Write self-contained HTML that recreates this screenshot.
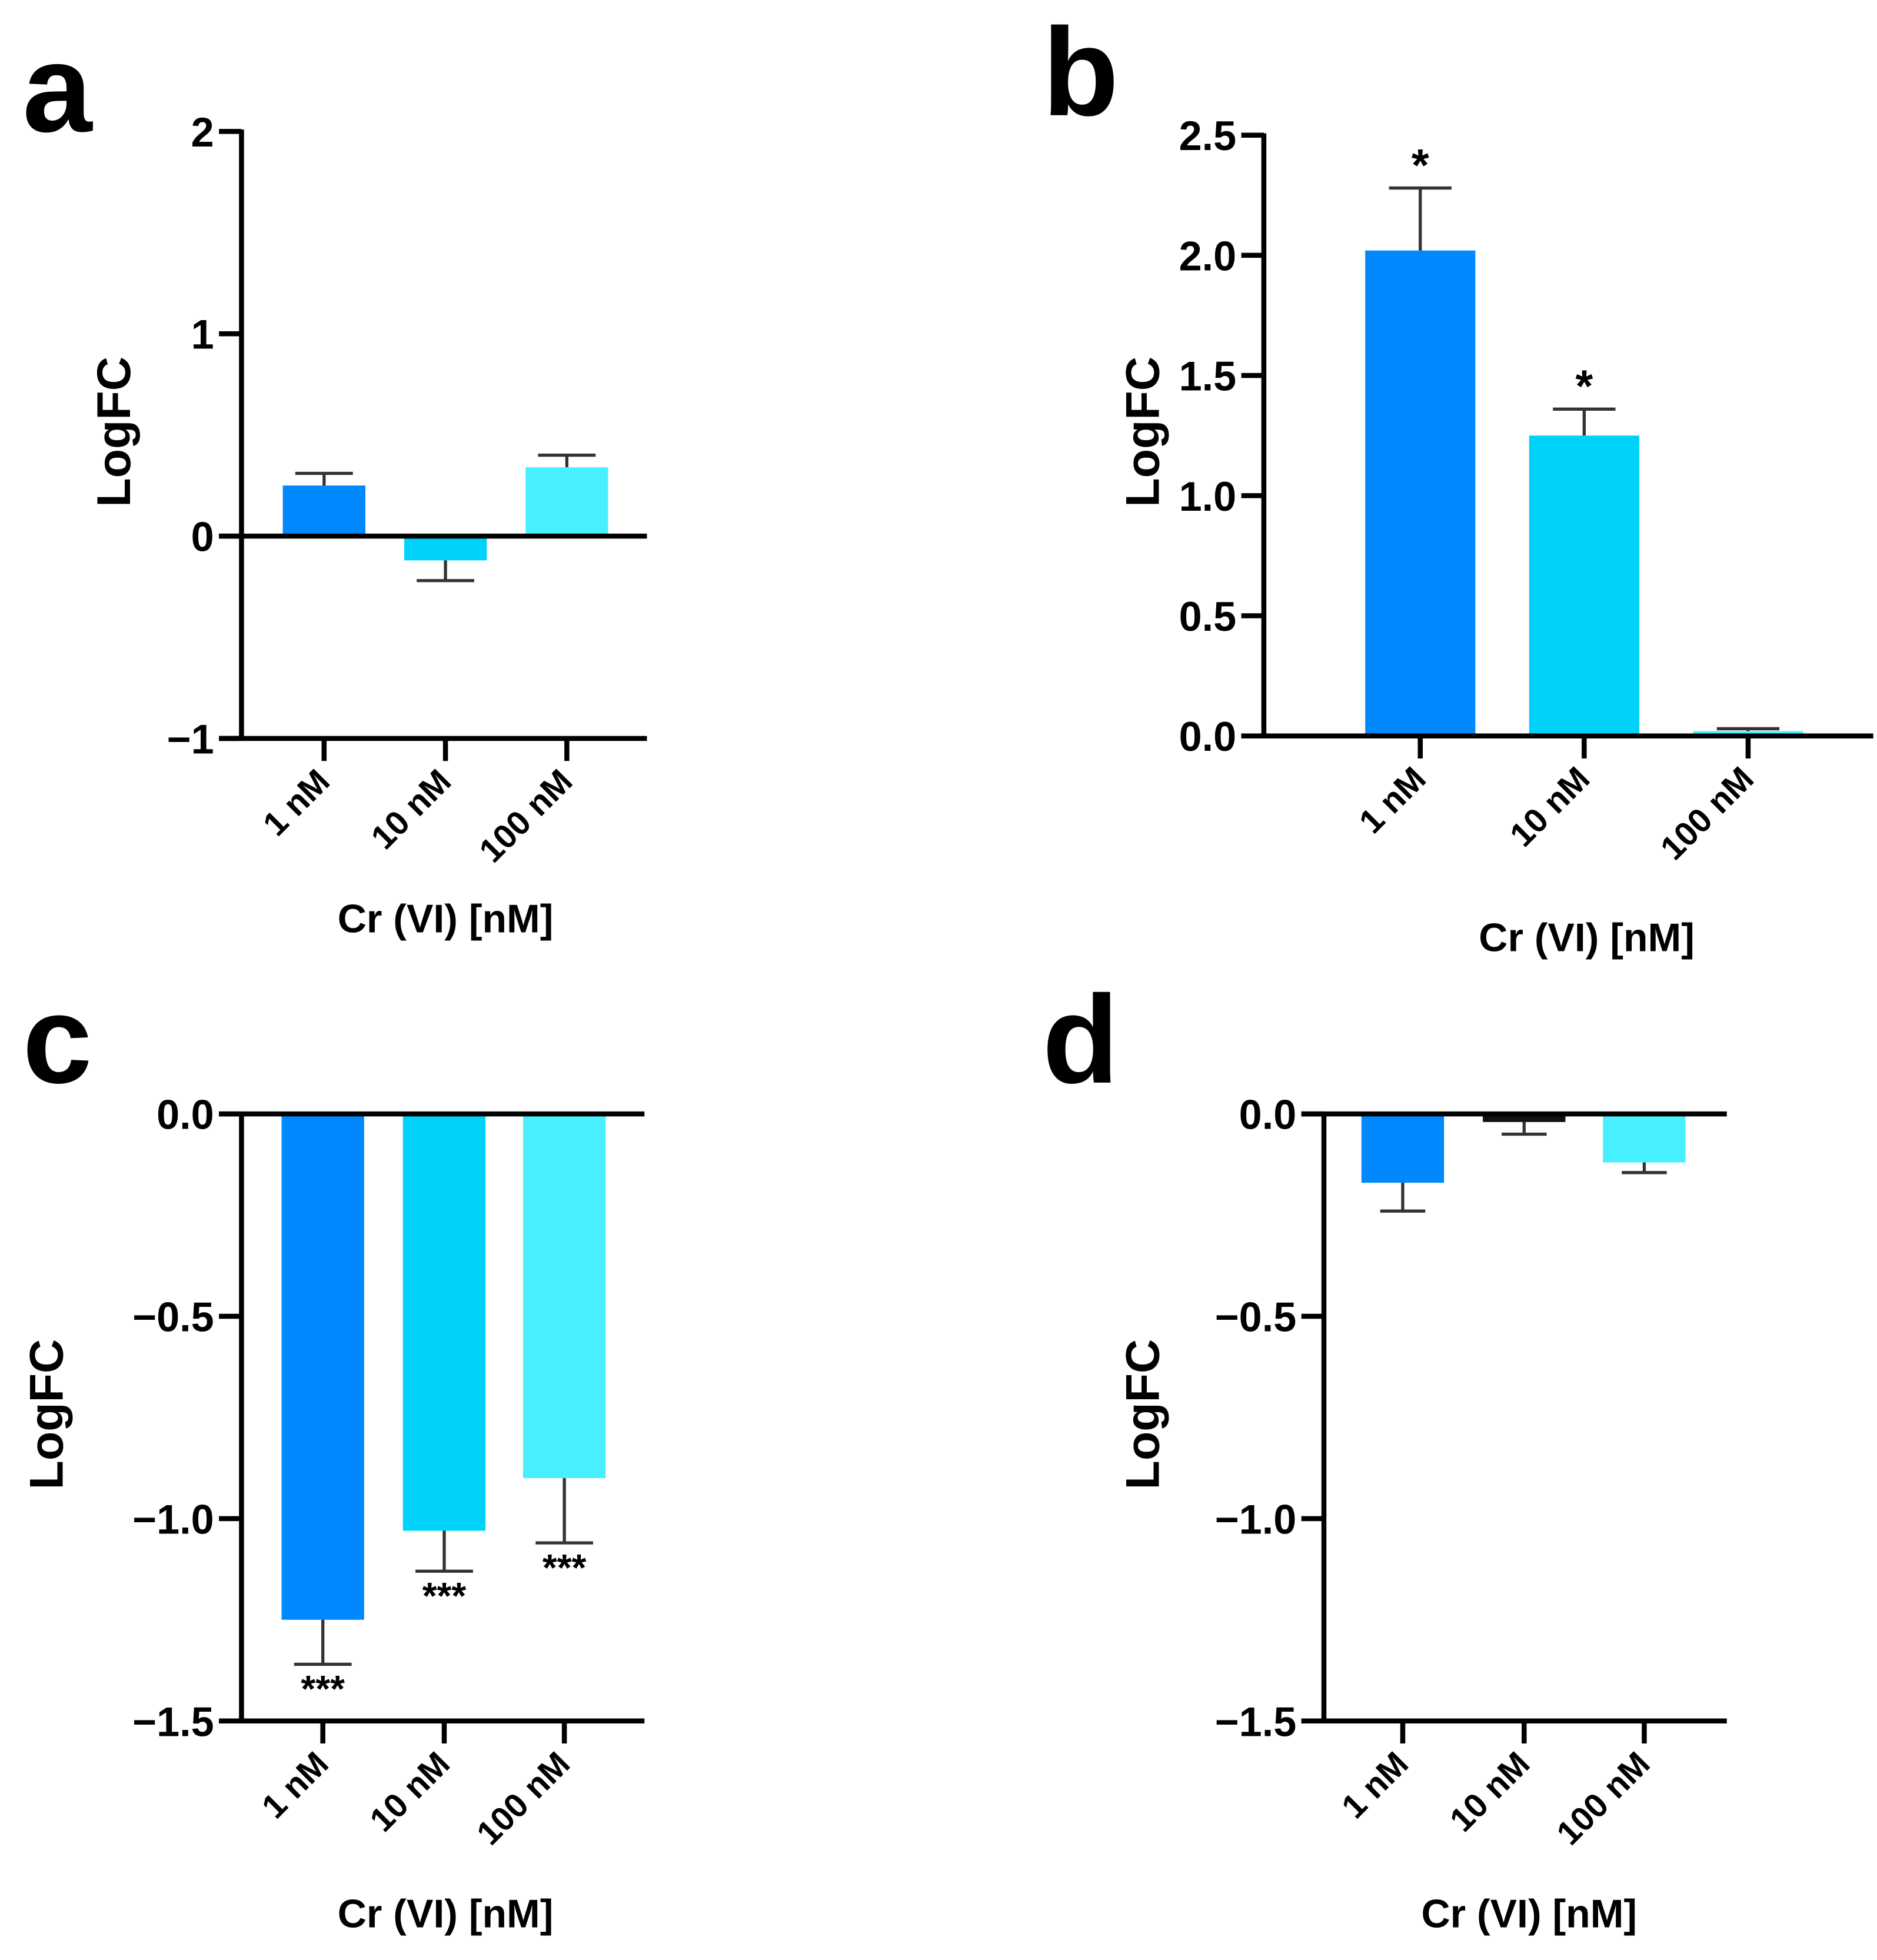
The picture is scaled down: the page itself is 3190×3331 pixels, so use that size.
<!DOCTYPE html>
<html><head><meta charset="utf-8"><style>
html,body{margin:0;padding:0;background:#fff;}
svg{display:block;}
text{font-family:"Liberation Sans",Arial,sans-serif;font-weight:bold;fill:#000;}
</style></head><body>
<svg id="fig" width="3190" height="3331" viewBox="0 0 1500 1566" preserveAspectRatio="none" xmlns="http://www.w3.org/2000/svg"></svg>
<script>
const categories = ["1 nM", "10 nM", "100 nM"];
const colors = ["#0088ff", "#00d2fa", "#48f0ff"];
const valuesA = [0.25, -0.12, 0.34];
const errorsA = [0.31, -0.22, 0.40];
const valuesB = [2.02, 1.25, 0.02];
const errorsB = [2.28, 1.36, 0.03];
const valuesC = [-1.25, -1.03, -0.90];
const errorsC = [-1.36, -1.13, -1.06];
const valuesD = [-0.17, -0.02, -0.12];
const errorsD = [-0.24, -0.05, -0.145];
const ticksA = [-1, 0, 1, 2];
const tickLabelsA = ["\u22121", "0", "1", "2"];
const ticksB = [0, 0.5, 1, 1.5, 2, 2.5];
const tickLabelsB = ["0.0", "0.5", "1.0", "1.5", "2.0", "2.5"];
const ticksCD = [-1.5, -1, -0.5, 0];
const tickLabelsCD = ["\u22121.5", "\u22121.0", "\u22120.5", "0.0"];
const starsA = ["", "", ""];
const starsB = ["*", "*", ""];
const starsC = ["***", "***", "***"];
const starsD = ["", "", ""];

const NS = "http://www.w3.org/2000/svg";
const svg = document.getElementById("fig");
function mk(tag, attrs, parent) {
  const e = document.createElementNS(NS, tag);
  for (const k in attrs) e.setAttribute(k, attrs[k]);
  (parent || svg).appendChild(e);
  return e;
}

function panel(cfg) {
  const g = mk("g", {});
  
  
  const y = v => cfg.y0 + (v - cfg.vmin) / (cfg.vmax - cfg.vmin) * (cfg.y1 - cfg.y0);
  const xs = cfg.xs;
  const L = mk("text", {x: cfg.lx, y: cfg.ly, "font-size": 100}, g);
  L.textContent = cfg.letter;
  
  
  cfg.values.forEach((v, i) => {
    const top = Math.min(y(v), y(0)), h = Math.abs(y(v) - y(0));
    const r = mk("rect", {x: xs[i] - cfg.bw / 2, y: top, width: cfg.bw, height: Math.max(h, 1.5),
      fill: (cfg.letter === "d" && i === 1) ? "#111" : colors[i]}, g);
    
    
    const e = cfg.errors[i];
    const el = mk("path", {d: `M${xs[i]},${y(v)}V${y(e)}M${xs[i] - cfg.cap},${y(e)}H${xs[i] + cfg.cap}`,
      stroke: "#333", "stroke-width": 2.5, fill: "none"}, g);
    
    
    if (cfg.stars[i]) {
      const up = e > v;
      const s = mk("text", {x: xs[i], y: up ? y(e) - 6 : y(e) + 30, "text-anchor": "middle", "font-size": up ? 36 : 30}, g);
      s.textContent = cfg.stars[i];
      
      
    }
  });
  const ax = mk("line", {x1: cfg.ax, x2: cfg.ax, y1: y(cfg.vmax) - 1.5, y2: y(cfg.vmin) + 1.5, stroke: "#000", "stroke-width": 4}, g);
  
  
  cfg.ticks.forEach((t, i) => {
    mk("line", {x1: cfg.ax - 18, x2: cfg.ax, y1: y(t), y2: y(t), stroke: "#000", "stroke-width": 4}, g);
    const tl = mk("text", {x: cfg.ax - 22, y: y(t) + 12, "text-anchor": "end", "font-size": 33}, g);
    tl.textContent = cfg.tickLabels[i];
    
    
  });
  cfg.hlines.forEach(v => {
    const hl = mk("line", {x1: cfg.ax - 18, x2: cfg.xend, y1: y(v), y2: y(v), stroke: "#000", "stroke-width": 4}, g);
    
    
  });
  const yb = y(cfg.vmin);
  categories.forEach((c, i) => {
    mk("line", {x1: xs[i], x2: xs[i], y1: yb, y2: yb + 18, stroke: "#000", "stroke-width": 4}, g);
    const tx = xs[i] + 6, ty = yb + 36;
    const t = mk("text", {x: tx, y: ty, "text-anchor": "end", "font-size": 27, transform: `rotate(-45 ${tx} ${ty})`}, g);
    t.textContent = c;
    
    
  });
  const yt = mk("text", {x: cfg.ytx, y: cfg.yty, "text-anchor": "middle", "font-size": 38, transform: `rotate(-90 ${cfg.ytx} ${cfg.yty})`}, g);
  yt.textContent = "LogFC";
  
  
  const xt = mk("text", {x: cfg.xtx, y: cfg.xty, "text-anchor": "middle", "font-size": 32}, g);
  xt.textContent = "Cr (VI) [nM]";
  
  
}

panel({letter: "a", lx: 18, ly: 105, vmin: -1, vmax: 2, y0: 590, y1: 105, ax: 193, xend: 517,
  xs: [259, 356, 453], bw: 66, cap: 23, values: valuesA, errors: errorsA, stars: starsA,
  ticks: ticksA, tickLabelsA: null, tickLabels: tickLabelsA, hlines: [0, -1], ytx: 104, yty: 345, xtx: 356, xty: 745});
panel({letter: "b", lx: 833, ly: 92, vmin: 0, vmax: 2.5, y0: 588, y1: 108, ax: 1010, xend: 1497,
  xs: [1135, 1266, 1397], bw: 88, cap: 25, values: valuesB, errors: errorsB, stars: starsB,
  ticks: ticksB, tickLabels: tickLabelsB, hlines: [0], ytx: 926, yty: 345, xtx: 1268, xty: 760});
panel({letter: "c", lx: 18, ly: 865, vmin: -1.5, vmax: 0, y0: 1375, y1: 890, ax: 193, xend: 515,
  xs: [258, 355, 451], bw: 66, cap: 23, values: valuesC, errors: errorsC, stars: starsC,
  ticks: ticksCD, tickLabels: tickLabelsCD, hlines: [0, -1.5], ytx: 50, yty: 1130, xtx: 356, xty: 1540});
panel({letter: "d", lx: 833, ly: 865, vmin: -1.5, vmax: 0, y0: 1375, y1: 890, ax: 1058, xend: 1380,
  xs: [1121, 1218, 1314], bw: 66, cap: 18, values: valuesD, errors: errorsD, stars: starsD,
  ticks: ticksCD, tickLabels: tickLabelsCD, hlines: [0, -1.5], ytx: 926, yty: 1130, xtx: 1222, xty: 1540});
</script>
</body></html>
